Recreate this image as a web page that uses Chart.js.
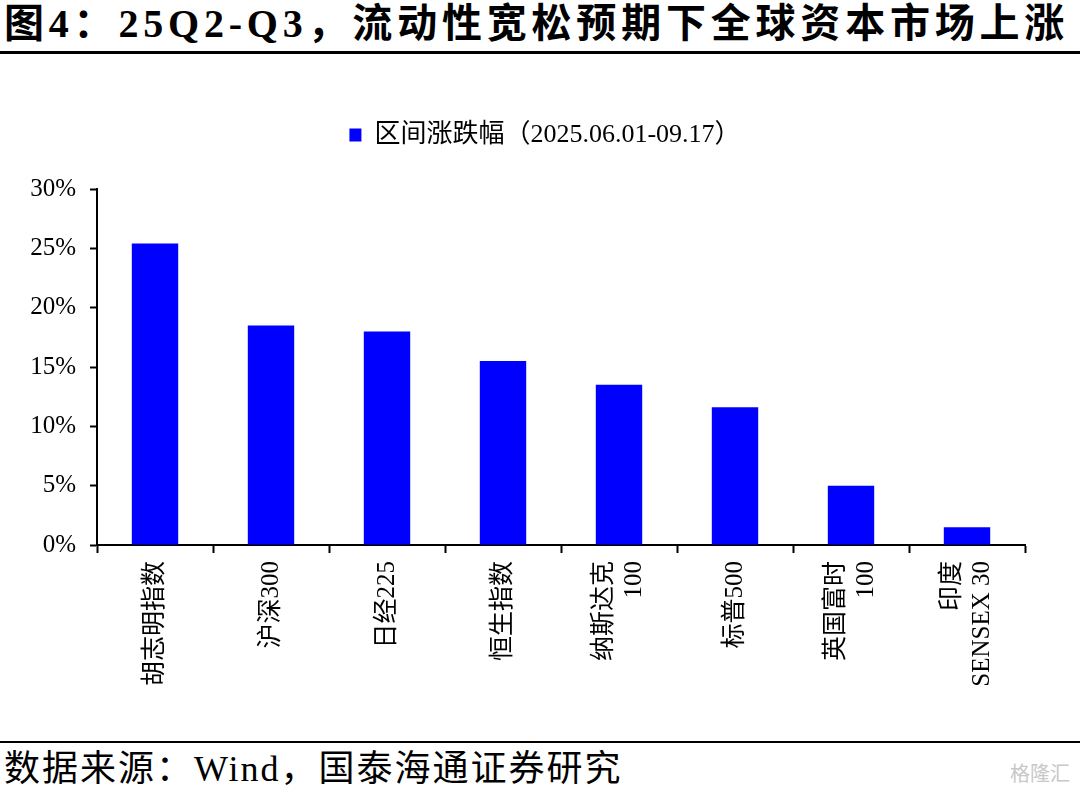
<!DOCTYPE html>
<html>
<head>
<meta charset="utf-8">
<script src="https://cdn.jsdelivr.net/npm/chart.js@4.4.1/dist/chart.umd.min.js"></script>
<style>
  html, body { margin: 0; padding: 0; background: #fff; }
  body { width: 1080px; height: 787px; position: relative; overflow: hidden;
         font-family: "Liberation Serif", "Noto Sans CJK SC", serif; color: #000; }
  #title { position: absolute; left: 4px; top: 0px; font-size: 40px; font-weight: bold;
           letter-spacing: 4.8px; white-space: nowrap; line-height: 48px; }
  #rule-top { position: absolute; left: 0; top: 51px; width: 1080px; height: 3px; background: #000; }
  #rule-bot { position: absolute; left: 0; top: 741px; width: 1080px; height: 2px; background: #000; }
  #source { position: absolute; left: 4px; top: 748px; font-size: 36px; letter-spacing: 2px;
            white-space: nowrap; line-height: 42px; }
  #mark { position: absolute; right: 10px; top: 758px; font-size: 20px; color: #c8c8c8;
          font-family: "Noto Sans CJK SC", sans-serif; }
  #wrap { position: absolute; left: 0; top: 60px; width: 1080px; height: 680px; }
</style>
</head>
<body>
<div id="title">图4：25Q2-Q3，流动性宽松预期下全球资本市场上涨</div>
<div id="rule-top"></div>
<div id="wrap"><canvas id="chart"></canvas></div>
<div id="rule-bot"></div>
<div id="source">数据来源：Wind，国泰海通证券研究</div>
<div id="mark">格隆汇</div>
<script>
// 区间涨跌幅，单位 %
const categories = [
  '胡志明指数', '沪深300', '日经225', '恒生指数',
  ['纳斯达克', '100'], '标普500', ['英国富时', '100'], ['印度', 'SENSEX 30']
];
const seriesName = '区间涨跌幅（2025.06.01-09.17）';
const changePct = [25.4, 18.5, 18.0, 15.5, 13.5, 11.6, 5.0, 1.5];
const yTicks = [0, 5, 10, 15, 20, 25, 30];

const FONT = '"Liberation Serif", "Noto Sans CJK SC", serif';
const LEGEND_HEIGHT = 81;

// fixed legend block height so the plot area starts where the original does,
// and centre it on the whole canvas rather than on the padded box
const legendLayout = {
  id: 'legendLayout',
  beforeInit(chart) {
    const fit = chart.legend.fit;
    chart.legend.fit = function () {
      fit.call(this);
      this.height = LEGEND_HEIGHT;
    };
  },
  afterLayout(chart) {
    const lg = chart.legend;
    lg.left = 10;
    lg.right = chart.width;
    lg.width = lg.right - lg.left;
  },
};

// centre two-line rotated labels on their tick (Chart.js puts the first line on it)
const centerMultiLine = {
  id: 'centerMultiLine',
  beforeDraw(chart) {
    const scale = chart.scales.x;
    const items = scale.getLabelItems();
    if (items._centred) return;
    items.forEach(item => {
      if (Array.isArray(item.label) && item.label.length > 1) {
        const lh = item.font.lineHeight;
        const t = item.options.translation;
        item.options.translation = [t[0] - (item.label.length - 1) * lh / 2, t[1]];
      }
    });
    items._centred = true;
  },
};

new Chart(document.getElementById('chart'), {
  type: 'bar',
  data: {
    labels: categories,
    datasets: [{
      label: seriesName,
      data: changePct,
      backgroundColor: '#0000ff',
      borderWidth: 0,
      categoryPercentage: 1.0,
      barPercentage: 0.4,
    }],
  },
  options: {
    responsive: true, maintainAspectRatio: false,
    animation: false,
    layout: { padding: { top: 48, right: 55, left: 0, bottom: 0 } },
    plugins: {
      legend: {
        display: true, position: 'top',
        labels: { color: '#000', boxWidth: 12, boxHeight: 13, padding: 14,
                  font: { family: FONT, size: 26 } },
      },
      tooltip: { enabled: false },
    },
    scales: {
      x: {
        grid: { display: true, drawOnChartArea: false, drawTicks: true, tickLength: 8,
                tickColor: '#000', tickWidth: 2, offset: true },
        border: { display: true, color: '#000', width: 2 },
        ticks: { color: '#000', autoSkip: false, minRotation: 90, maxRotation: 90, padding: 8,
                 font: { family: FONT, size: 25 } },
        afterFit(scale) { scale.height = 195; },
      },
      y: {
        min: 0, max: 30,
        afterBuildTicks(scale) { scale.ticks = yTicks.map(v => ({ value: v })); },
        grid: { display: true, drawOnChartArea: false, drawTicks: true, tickLength: 7,
                tickColor: '#000', tickWidth: 2 },
        border: { display: true, color: '#000', width: 2 },
        ticks: { color: '#000', padding: 14, font: { family: FONT, size: 25 },
                 callback: v => v + '%' },
        afterFit(scale) { scale.width = 97; },
      },
    },
  },
  plugins: [legendLayout, centerMultiLine],
});
</script>
</body>
</html>
